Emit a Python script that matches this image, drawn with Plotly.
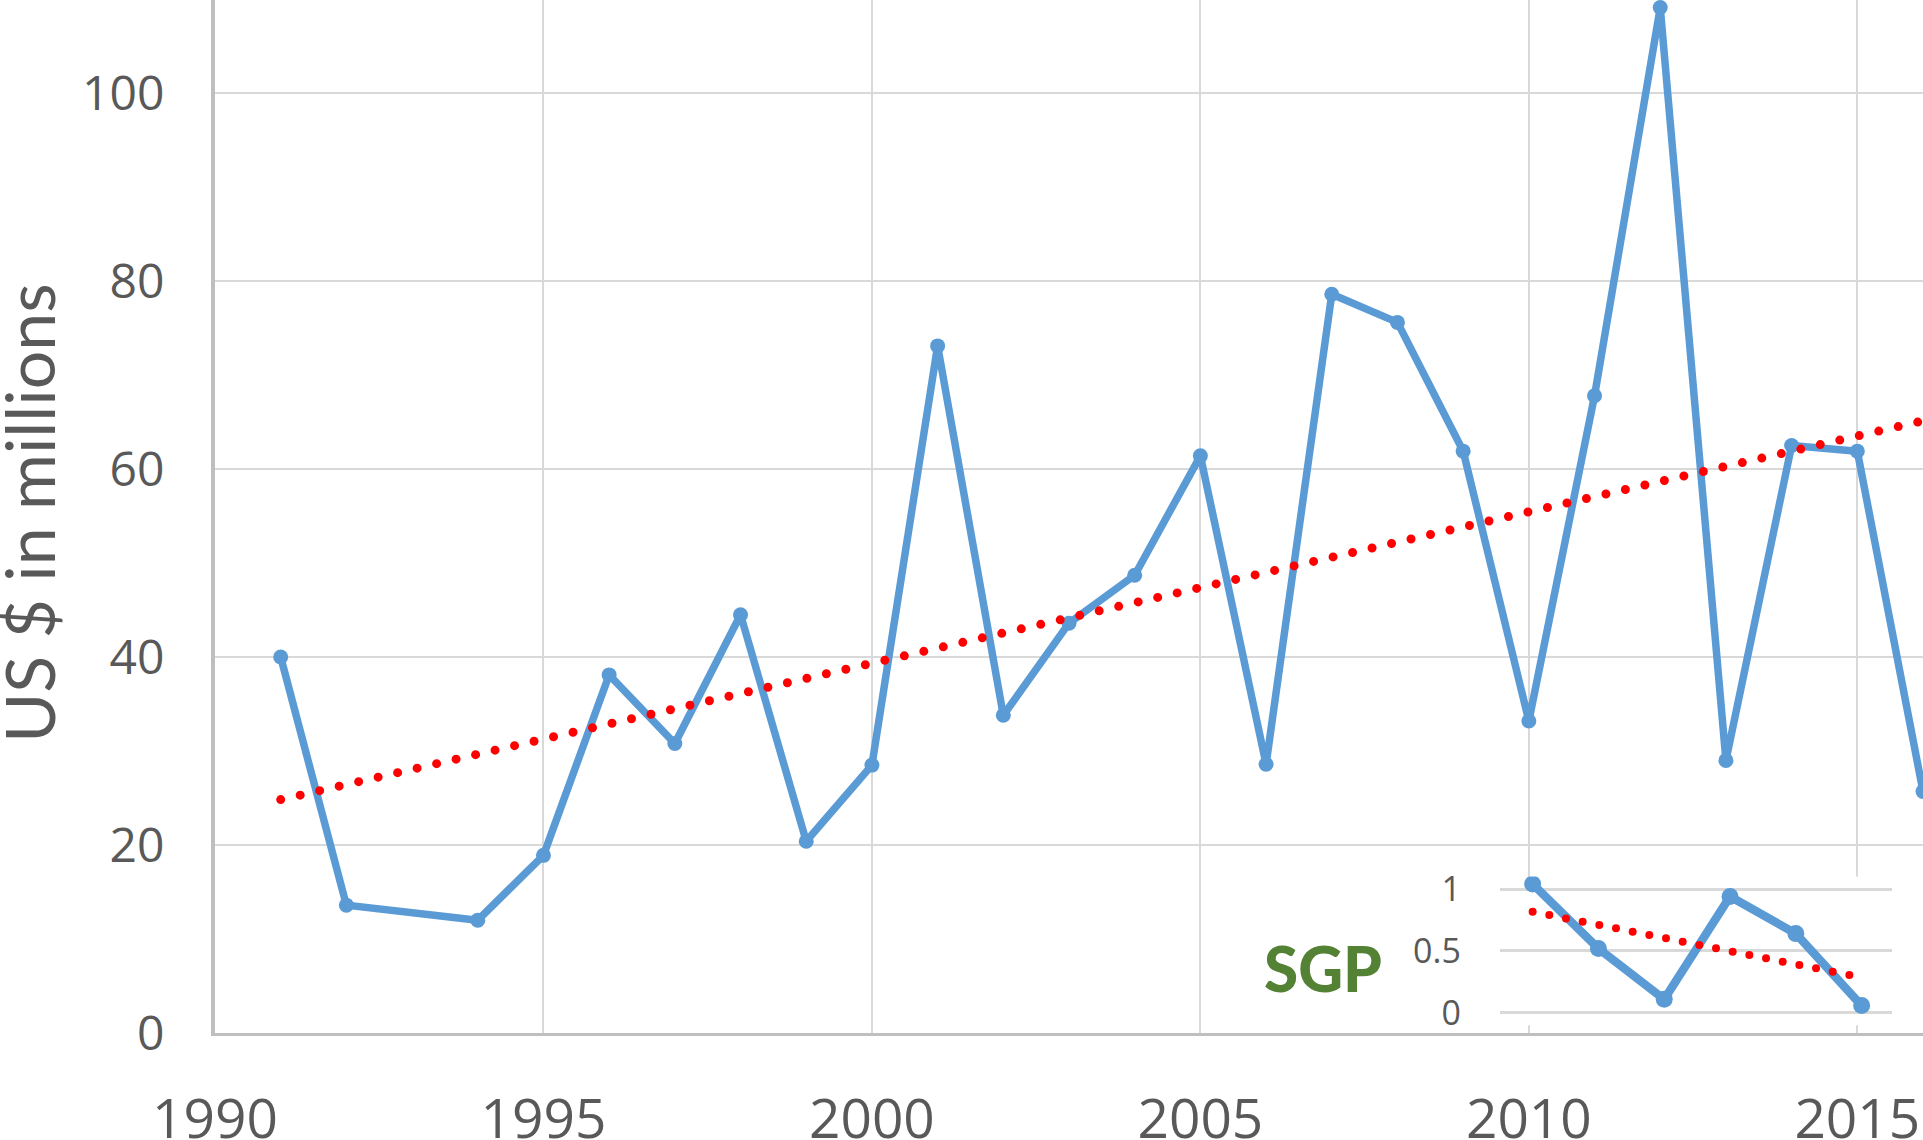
import numpy as np
import plotly.graph_objects as go

# ---- data ----
years = [1991, 1992, 1994, 1995, 1996, 1997, 1998, 1999, 2000, 2001, 2002, 2003,
         2004, 2005, 2006, 2007, 2008, 2009, 2010, 2011, 2012, 2013, 2014, 2015, 2016]
values = [40.0, 13.6, 12.0, 18.9, 38.1, 30.8, 44.5, 20.4, 28.5, 73.1, 33.8, 43.6,
          48.7, 61.4, 28.6, 78.6, 75.6, 61.9, 33.2, 67.8, 109.1, 29.0, 62.5, 61.9, 25.7]

sgp_years = [2010, 2011, 2012, 2013, 2014, 2015]
sgp_values = [1.04, 0.52, 0.11, 0.94, 0.64, 0.06]

x_ticks = [1990, 1995, 2000, 2005, 2010, 2015]
y_ticks = [0, 20, 40, 60, 80, 100]
sgp_y_ticks = [0, 0.5, 1]
sgp_y_text = ["0", "0.5", "1"]

y_title = "US $ in millions"
inset_label = "SGP"

BLUE = "#5B9BD5"
RED = "#FF0000"
GRID = "#D9D9D9"
TXT = "#595959"

# linear trendlines (least squares, as in the spreadsheet trendline)
p_main = np.polyfit(years, values, 1)
tx_main = [years[0], years[-1]]
ty_main = list(np.polyval(p_main, tx_main))
p_sgp = np.polyfit(sgp_years, sgp_values, 1)
tx_sgp = [sgp_years[0], sgp_years[-1]]
ty_sgp = list(np.polyval(p_sgp, tx_sgp))

fig = go.Figure()
fig.add_trace(go.Scatter(x=years, y=values, mode="lines+markers",
                         line=dict(color=BLUE, width=7.5),
                         marker=dict(color=BLUE, size=15), showlegend=False))
fig.add_trace(go.Scatter(x=tx_main, y=ty_main, mode="lines",
                         line=dict(color=RED, width=9, dash="0px,20px"),
                         showlegend=False))
fig.add_trace(go.Scatter(x=sgp_years, y=sgp_values, mode="lines+markers",
                         line=dict(color=BLUE, width=8.5),
                         marker=dict(color=BLUE, size=17), showlegend=False,
                         xaxis="x2", yaxis="y2"))
fig.add_trace(go.Scatter(x=tx_sgp, y=ty_sgp, mode="lines",
                         line=dict(color=RED, width=8, dash="0px,17px"),
                         showlegend=False, xaxis="x2", yaxis="y2"))

fig.update_layout(
    width=1923, height=1140,
    margin=dict(l=215, r=0, t=0, b=107, autoexpand=False),
    paper_bgcolor="white", plot_bgcolor="white",
    xaxis=dict(range=[1990, 2016], tickvals=x_ticks, showgrid=True,
               gridcolor=GRID, gridwidth=2, showline=True, linecolor="#BFBFBF",
               linewidth=3, ticks="", zeroline=False, automargin=False,
               tickfont=dict(family="Open Sans", size=55, color=TXT),
               ticklabelstandoff=36),
    yaxis=dict(range=[0, 109.9], tickvals=y_ticks, showgrid=True,
               gridcolor=GRID, gridwidth=2, showline=True, linecolor="#BFBFBF",
               linewidth=4, ticks="", zeroline=False, automargin=False,
               tickfont=dict(family="Open Sans", size=48, color=TXT),
               ticklabelstandoff=37),
    xaxis2=dict(domain=[0.7523, 0.9818], range=[2009.503, 2015.46], anchor="y2",
                showgrid=False, showticklabels=False, showline=False,
                zeroline=False, ticks="", automargin=False),
    yaxis2=dict(domain=[0.0074, 0.1514], range=[-0.1, 1.1], anchor="x2",
                tickvals=sgp_y_ticks, ticktext=sgp_y_text, showgrid=True,
                gridcolor=GRID, gridwidth=3, showline=False, zeroline=False,
                ticks="", automargin=False,
                tickfont=dict(family="Open Sans", size=34, color=TXT),
                ticklabelstandoff=38),
    annotations=[
        dict(text=y_title, xref="paper", yref="paper", x=-0.1090, y=0.5034,
             textangle=-90, showarrow=False, xanchor="center", yanchor="middle",
             font=dict(family="Lato", size=68, color=TXT)),
        dict(text=inset_label, xref="paper", yref="paper", x=0.6485, y=0.0629,
             showarrow=False, xanchor="center", yanchor="middle",
             font=dict(family="Lato", size=62, color="#548235", weight=900)),
    ],
)

post_script = """
document.body.style.margin = '0';
document.body.style.overflow = 'hidden';
var gd = document.getElementById('{plot_id}');
function rc(){
  gd.querySelectorAll('path.js-line').forEach(function(p){
    var s = p.style.stroke || '';
    if (s.replace(/ /g,'') === 'rgb(255,0,0)') { p.style.strokeLinecap = 'round'; }
  });
}
rc();
gd.on('plotly_afterplot', rc);
"""

fig.write_html("out.html", post_script=post_script,
               config={"displayModeBar": False})
